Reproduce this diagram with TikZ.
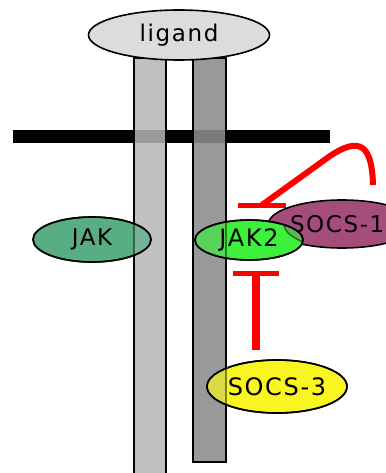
\documentclass[tikz,border=0pt]{standalone}
\usepackage{fontspec}
\setmainfont{DejaVu Sans}[LetterSpace=7]
\usetikzlibrary{arrows.meta,shapes.geometric}
\definecolor{ligfill}{HTML}{DCDCDC}
\definecolor{barA}{HTML}{C0C0C0}
\definecolor{barB}{HTML}{999999}
\definecolor{jakfill}{HTML}{58AD82}
\definecolor{jaktwo}{HTML}{3CF03C}
\definecolor{socsone}{HTML}{A54D7A}
\definecolor{socsthree}{HTML}{F8F520}
\definecolor{inhib}{HTML}{FF0000}
\tikzset{
  blob/.style={ellipse, draw=black, line width=1.6pt, inner sep=0pt, font=\fontsize{23}{25}\selectfont},
  chain/.style={draw=black, line width=1.6pt},
  inh/.style={draw=inhib, line width=6pt},
}
\begin{document}
\begin{tikzpicture}[x=1pt,y=-1pt]
\useasboundingbox (0,0) rectangle (385,473);
% membrane
\fill[black] (13,130) rectangle (330,143);
% receptor chains
\path[chain, fill=barA] (134,58) rectangle (166,476);
\path[chain, fill=barB] (193,58) rectangle (226,462);
\fill[black, opacity=0.2] (134,130) rectangle (166,143);
\fill[black, opacity=0.2] (193,130) rectangle (226,143);
% ligand
\node[blob, fill=ligfill, minimum width=181pt, minimum height=50pt] (ligand) at (179,35) {ligand};
% JAK
\node[blob, fill=jakfill, minimum width=118pt, minimum height=45pt] (jak) at (92,239.5) {};
\begin{scope}
  \clip (92,239.5) ellipse [x radius=59pt, y radius=22.5pt];
  \fill[barA, opacity=0.3] (134,58) rectangle (166,476);
  \draw[black, opacity=0.45, line width=1.6pt] (134,58) -- (134,476);
\end{scope}
\draw[black, line width=1.6pt] (92,239.5) ellipse [x radius=59pt, y radius=22.5pt];
\node[font=\fontsize{23}{25}\selectfont] at (jak.center) {JAK};
% SOCS-1
\node[blob, fill=socsone, minimum width=116pt, minimum height=48pt, text width=104pt, align=left] (socs1) at (342,224) {SOCS-1};
% JAK2
\node[blob, fill=jaktwo, minimum width=108pt, minimum height=40pt] (jak2) at (249,240) {};
\begin{scope}
  \clip (249,240) ellipse [x radius=54pt, y radius=20pt];
  \fill[barB, opacity=0.3] (193,58) rectangle (226,462);
  \draw[black, opacity=0.45, line width=1.6pt] (226,58) -- (226,462);
  \fill[socsone, opacity=0.35] (342,224) ellipse [x radius=58pt, y radius=24pt];
  \draw[black, opacity=0.45, line width=1.6pt] (342,224) ellipse [x radius=58pt, y radius=24pt];
\end{scope}
\draw[black, line width=1.6pt] (249,240) ellipse [x radius=54pt, y radius=20pt];
\node[font=\fontsize{24}{26}\selectfont] at (jak2.center) {JAK2};
% SOCS-3
\node[blob, fill=socsthree, minimum width=140pt, minimum height=53pt] (socs3) at (277,386.5) {};
\begin{scope}
  \clip (277,386.5) ellipse [x radius=70pt, y radius=26.5pt];
  \fill[barB, opacity=0.3] (193,58) rectangle (226,462);
  \draw[black, opacity=0.45, line width=1.6pt] (226,58) -- (226,462);
\end{scope}
\draw[black, line width=1.6pt] (277,386.5) ellipse [x radius=70pt, y radius=26.5pt];
\node[font=\fontsize{24}{26}\selectfont] at (socs3.center) {SOCS-3};
% inhibition SOCS-3 -| JAK2
\coordinate (s3top) at (256,350);
\coordinate (j2bot) at (256,273);
\draw[inhib, line width=8.5pt] (s3top) -- (j2bot);
\draw[inhib, line width=5pt] (233,273) -- (279,273);
% inhibition SOCS-1 -| JAK2
\coordinate (s1top) at (373,185);
\coordinate (j2top) at (262,205);
\draw[inh, line cap=butt] (s1top) .. controls (372,145) and (360,136) .. (330,156) -- (j2top);
\draw[inhib, line width=5pt] (238,205) -- (286,205);
\end{tikzpicture}
\end{document}
